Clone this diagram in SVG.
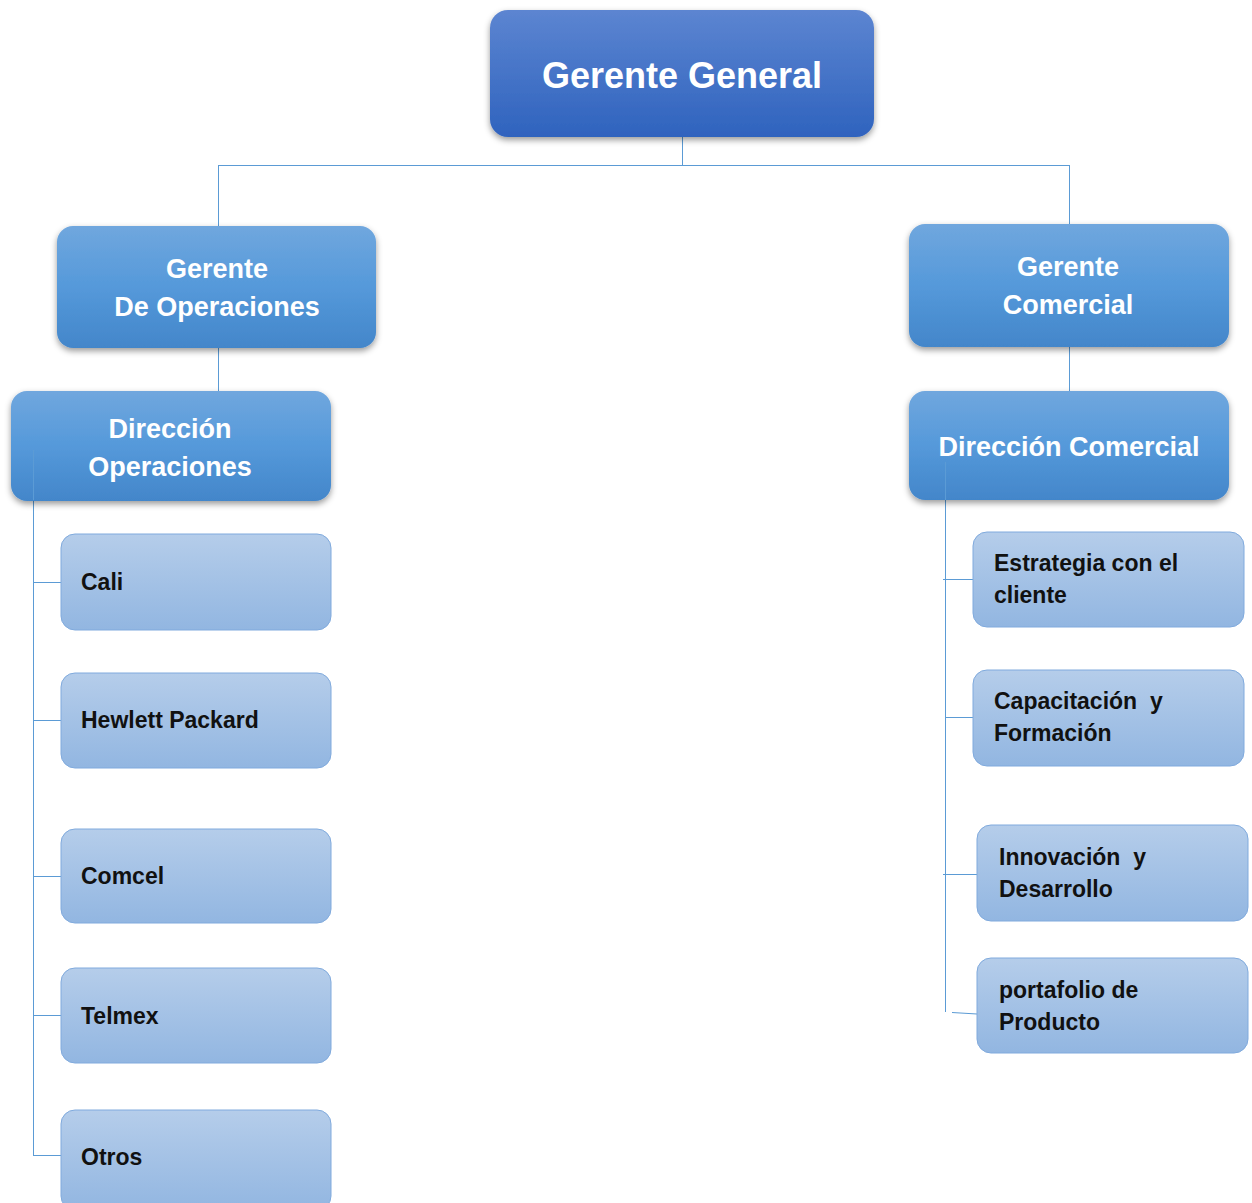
<svg xmlns="http://www.w3.org/2000/svg" width="1252" height="1203" viewBox="0 0 1252 1203">
<defs>
<linearGradient id="gTop" x1="0" y1="0" x2="0" y2="1"><stop offset="0" stop-color="#5c85d1"/><stop offset="1" stop-color="#2f63be"/></linearGradient>
<linearGradient id="gMid" x1="0" y1="0" x2="0" y2="1"><stop offset="0" stop-color="#70a7de"/><stop offset="0.5" stop-color="#5599da"/><stop offset="1" stop-color="#4386ca"/></linearGradient>
<linearGradient id="gLeaf" x1="0" y1="0" x2="0" y2="1"><stop offset="0" stop-color="#b5cdea"/><stop offset="1" stop-color="#92b6e1"/></linearGradient>
<filter id="sh" x="-10%" y="-10%" width="120%" height="130%"><feDropShadow dx="0" dy="3" stdDeviation="3" flood-color="#000" flood-opacity="0.4"/></filter>
</defs>
<style>
.top{fill:url(#gTop);filter:url(#sh)}
.mid{fill:url(#gMid);filter:url(#sh)}
.leaf{fill:url(#gLeaf);stroke:#80aadd;stroke-width:1}
.wt{font-family:"Liberation Sans",Arial,sans-serif;font-weight:bold;fill:#fff;text-anchor:middle}
.bt{font-family:"Liberation Sans",Arial,sans-serif;font-weight:bold;fill:#111;font-size:23px;white-space:pre}
.ln{stroke:#5b9bd5;stroke-width:1;fill:none}
</style>
<rect width="1252" height="1203" fill="#fff"/>
<g id="connectors">
<path class="ln" d="M682.5 137V165.5M218.5 165.5H1069.5M218.5 165V226M1069.5 165V224"/>
<path class="ln" d="M218.5 348V391M1069.5 347V391"/>
<path class="ln" d="M33.5 500V1155M33 582.5H61M33 720.5H61M33 876.5H61M33 1015.5H61M33 1155.5H61"/>
<path class="ln" d="M945.5 500V1012M943 579.5H973M945 717.5H973M943 874.5H977M952 1012.5L977 1014"/>
</g>
<g id="gerente-general"><rect class="top" x="490" y="10" width="384" height="127" rx="18"/><text class="wt" x="682" y="88" font-size="36">Gerente General</text></g>
<g id="gerente-operaciones"><rect class="mid" x="57" y="226" width="319" height="122" rx="16"/><text class="wt" x="217" y="278" font-size="27">Gerente</text><text class="wt" x="217" y="316" font-size="27">De Operaciones</text></g>
<g id="gerente-comercial"><rect class="mid" x="909" y="224" width="320" height="123" rx="16"/><text class="wt" x="1068" y="276" font-size="27">Gerente</text><text class="wt" x="1068" y="314" font-size="27">Comercial</text></g>
<g id="direccion-operaciones"><rect class="mid" x="11" y="391" width="320" height="110" rx="16"/><text class="wt" x="170" y="438" font-size="27">Dirección</text><text class="wt" x="170" y="476" font-size="27">Operaciones</text></g>
<g id="direccion-comercial"><rect class="mid" x="909" y="391" width="320" height="109" rx="16"/><text class="wt" x="1069" y="456" font-size="27">Dirección Comercial</text></g>
<path class="ln" d="M33.5 450V500M945.5 462V500"/>
<g id="cali"><rect class="leaf" x="61" y="534" width="270" height="96" rx="14"/><text class="bt" x="81" y="590">Cali</text></g>
<g id="hewlett-packard"><rect class="leaf" x="61" y="673" width="270" height="95" rx="14"/><text class="bt" x="81" y="728">Hewlett Packard</text></g>
<g id="comcel"><rect class="leaf" x="61" y="829" width="270" height="94" rx="14"/><text class="bt" x="81" y="884">Comcel</text></g>
<g id="telmex"><rect class="leaf" x="61" y="968" width="270" height="95" rx="14"/><text class="bt" x="81" y="1024">Telmex</text></g>
<g id="otros"><rect class="leaf" x="61" y="1110" width="270" height="100" rx="14"/><text class="bt" x="81" y="1165">Otros</text></g>
<g id="estrategia"><rect class="leaf" x="973" y="532" width="271" height="95" rx="14"/><text class="bt" x="994" y="571">Estrategia con el</text><text class="bt" x="994" y="603">cliente</text></g>
<g id="capacitacion"><rect class="leaf" x="973" y="670" width="271" height="96" rx="14"/><text class="bt" x="994" y="709">Capacitación  y</text><text class="bt" x="994" y="741">Formación</text></g>
<g id="innovacion"><rect class="leaf" x="977" y="825" width="271" height="96" rx="14"/><text class="bt" x="999" y="865">Innovación  y</text><text class="bt" x="999" y="897">Desarrollo</text></g>
<g id="portafolio"><rect class="leaf" x="977" y="958" width="271" height="95" rx="14"/><text class="bt" x="999" y="998">portafolio de</text><text class="bt" x="999" y="1030">Producto</text></g>
</svg>
